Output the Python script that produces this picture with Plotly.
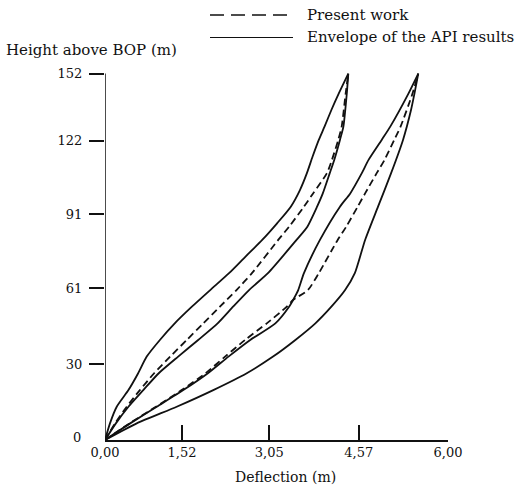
import plotly.graph_objects as go

# ---- data (deflection in m on the drawn scale, height above BOP in m) ----
# left group: envelope (left), present work, envelope (right)
a_x = [0, 0.087, 0.205, 0.41, 0.58, 0.73, 0.96, 1.22, 1.52, 1.84, 2.17, 2.45, 2.75, 3.01, 3.25, 3.41, 3.53, 3.63, 3.74, 3.84, 3.96, 4.09, 4.256]
a_y = [0, 6.9, 13.8, 20.7, 27.7, 34.6, 41.5, 48.4, 55.3, 62.2, 69.2, 75.9, 83.0, 89.9, 96.8, 103.7, 110.6, 117.5, 124.5, 130.0, 136.9, 143.8, 152]

b_x = [0, 0.175, 0.38, 0.61, 0.86, 1.14, 1.43, 1.72, 2.01, 2.30, 2.57, 3.03, 3.22, 3.48, 3.64, 3.88, 3.97, 4.08, 4.14, 4.21, 4.256]
b_y = [0, 6.9, 13.8, 20.7, 27.7, 34.6, 41.5, 48.4, 55.3, 62.2, 69.2, 83.0, 88.5, 96.8, 102.3, 110.6, 116.2, 124.5, 130.0, 143.8, 152]

c_x = [0, 0.19, 0.41, 0.67, 0.94, 1.28, 1.63, 1.97, 2.24, 2.52, 2.85, 3.35, 3.54, 3.71, 3.81, 3.93, 4.01, 4.11, 4.17, 4.23, 4.256]
c_y = [0, 6.9, 13.8, 20.7, 27.7, 34.6, 41.5, 48.4, 55.3, 62.2, 69.2, 83.0, 88.5, 96.8, 102.3, 110.6, 116.2, 124.5, 130.0, 143.8, 152]

# right group: envelope (left), present work, envelope (right)
d_x = [0, 0.44, 0.905, 1.37, 1.80, 2.16, 2.54, 2.98, 3.22, 3.29, 3.38, 3.48, 3.76, 4.11, 4.29, 4.49, 4.61, 4.84, 4.99, 5.31, 5.48]
d_y = [0, 6.9, 13.8, 20.7, 27.7, 34.6, 41.5, 48.4, 55.3, 58.1, 62.2, 69.2, 83.0, 96.8, 102.3, 110.6, 116.2, 124.5, 130.0, 143.8, 152]

e_x = [0, 0.43, 0.89, 1.34, 1.76, 2.10, 2.45, 2.83, 3.18, 3.29, 3.55, 3.74, 4.07, 4.22, 4.42, 4.55, 4.75, 4.89, 5.06, 5.17, 5.38, 5.48]
e_y = [0, 6.9, 13.8, 20.7, 27.7, 34.6, 41.5, 48.4, 55.3, 58.1, 62.2, 69.2, 83.0, 88.5, 96.8, 102.3, 110.6, 116.2, 124.5, 130.0, 143.8, 152]

f_x = [0, 0.555, 1.254, 1.894, 2.48, 2.94, 3.33, 3.68, 3.96, 4.20, 4.37, 4.55, 4.776, 5.003, 5.213, 5.353, 5.414, 5.48]
f_y = [0, 6.9, 13.8, 20.7, 27.7, 34.6, 41.5, 48.4, 55.3, 62.2, 69.2, 83.0, 96.8, 110.6, 124.5, 136.9, 143.8, 152]

# tick labels and where they sit on the drawn scale
x_tick_pos = [0, 1.347, 2.874, 4.438, 6.0]
x_tick_text = ["0,00", "1,52", "3,05", "4,57", "6,00"]
y_tick_pos = [31.5, 62.9, 93.6, 124.2, 152]
y_tick_text = ["30", "61", "91", "122", "152"]

FONT = "DejaVu Serif"
BLACK = "#111111"
LW = 1.8

fig = go.Figure()
envelope = [(a_x, a_y), (c_x, c_y), (d_x, d_y), (f_x, f_y)]
present = [(b_x, b_y), (e_x, e_y)]
for xs, ys in envelope:
    fig.add_trace(go.Scatter(x=xs, y=ys, mode="lines", showlegend=False,
                             line=dict(color=BLACK, width=LW, shape="spline", smoothing=0.6)))
for xs, ys in present:
    fig.add_trace(go.Scatter(x=xs, y=ys, mode="lines", showlegend=False,
                             line=dict(color=BLACK, width=LW, dash="7px,4px", shape="spline", smoothing=0.6)))

L, R, T, B = 105, 67, 70, 46
W, H = 515, 486
pw, ph = W - L - R, H - T - B

def px(xp):
    return (xp - L) / pw

def py(yp):
    return (H - B - yp) / ph

shapes = [
    # y axis line (stops at the top tick)
    dict(type="line", xref="x", yref="y", x0=0, x1=0, y0=0, y1=152, line=dict(color=BLACK, width=1.5)),
    # legend samples
    dict(type="line", xref="paper", yref="paper", x0=px(210), x1=px(287), y0=py(15), y1=py(15),
         line=dict(color=BLACK, width=1.6, dash="14px,7px")),
    dict(type="line", xref="paper", yref="paper", x0=px(210), x1=px(293), y0=py(37.5), y1=py(37.5),
         line=dict(color=BLACK, width=1.2)),
]

annotations = [
    dict(text="Present work", xref="paper", yref="paper", x=px(305), y=py(15), xanchor="left",
         yanchor="middle", showarrow=False, font=dict(family=FONT, size=15, color=BLACK)),
    dict(text="Envelope of the API results", xref="paper", yref="paper", x=px(305), y=py(37.5),
         xanchor="left", yanchor="middle", showarrow=False, font=dict(family=FONT, size=15, color=BLACK)),
    dict(text="Height above BOP (m)", xref="paper", yref="paper", x=px(4), y=py(50), xanchor="left",
         yanchor="middle", showarrow=False, font=dict(family=FONT, size=15, color=BLACK)),
    dict(text="Deflection (m)", xref="paper", yref="paper", x=px(285), y=py(477), xanchor="center",
         yanchor="middle", showarrow=False, font=dict(family=FONT, size=14, color=BLACK)),
    dict(text="0", xref="paper", yref="paper", x=px(83), y=py(437), xanchor="right",
         yanchor="middle", showarrow=False, font=dict(family=FONT, size=13, color=BLACK)),
]

fig.update_layout(
    width=W, height=H,
    margin=dict(l=L, r=R, t=T, b=B, pad=0),
    paper_bgcolor="white", plot_bgcolor="white",
    showlegend=False,
    shapes=shapes, annotations=annotations,
    font=dict(family=FONT, size=13, color=BLACK),
)
fig.update_xaxes(range=[0, 6.0], tickvals=x_tick_pos, ticktext=x_tick_text, ticks="inside",
                 ticklen=15, tickwidth=1.5, tickcolor=BLACK, showline=True, linecolor=BLACK,
                 linewidth=1.5, showgrid=False, zeroline=False, fixedrange=True,
                 tickfont=dict(family=FONT, size=13, color=BLACK))
fig.update_yaxes(range=[0, 153.5], tickvals=y_tick_pos, ticktext=y_tick_text, ticks="outside",
                 ticklen=15, tickwidth=1.5, tickcolor=BLACK, showline=False, showgrid=False,
                 zeroline=False, fixedrange=True, ticklabelstandoff=4,
                 tickfont=dict(family=FONT, size=13, color=BLACK))

fig.write_html("out.html")
